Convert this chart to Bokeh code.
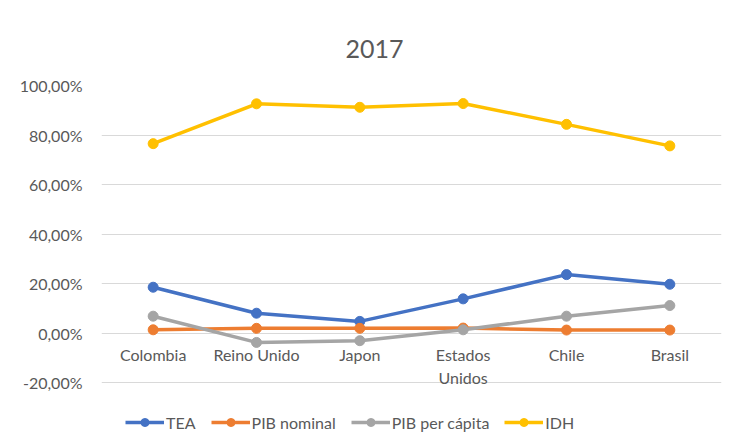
from bokeh.plotting import figure
from bokeh.models import FactorRange, Range1d, FixedTicker, Legend, LegendItem, ColumnDataSource
from bokeh.core.properties import value
from bokeh.embed import file_html
from bokeh.resources import INLINE

categories = ["Colombia", "Reino Unido", "Japon", "Estados Unidos", "Chile", "Brasil"]
category_labels = ["Colombia", "Reino Unido", "Japon", "Estados\nUnidos", "Chile", "Brasil"]

tea = [18.5, 8.0, 4.7, 13.8, 23.6, 19.7]
pib_nominal = [1.3, 1.9, 1.9, 2.0, 1.2, 1.2]
pib_per_capita = [6.8, -3.8, -3.1, 1.3, 6.8, 11.1]
idh = [76.5, 92.6, 91.2, 92.7, 84.3, 75.6]

y_ticks = [-20, 0, 20, 40, 60, 80, 100]
y_tick_labels = ["-20,00%", "0,00%", "20,00%", "40,00%", "60,00%", "80,00%", "100,00%"]

series = [
    ("TEA", tea, "#4472C4"),
    ("PIB nominal", pib_nominal, "#ED7D31"),
    ("PIB per cápita", pib_per_capita, "#A5A5A5"),
    ("IDH", idh, "#FFC000"),
]

FONT = "Lato"
TXT = "#595959"

p = figure(
    frame_width=620, frame_height=349,
    x_range=FactorRange(*categories),
    y_range=Range1d(-41, 100),
    output_backend="svg", toolbar_location=None,
    min_border_left=101, min_border_right=4, min_border_top=85, min_border_bottom=5,
)
p.x_range.range_padding = 0
p.outline_line_color = None
p.background_fill_color = "white"
p.border_fill_color = "white"

p.title.text = "2017"
p.title.align = "left"
p.title.offset = 244
p.title.standoff = 56
p.title.text_font = FONT
p.title.text_font_size = "25px"
p.title.text_font_style = "normal"
p.title.text_color = TXT

# y axis
p.yaxis.ticker = FixedTicker(ticks=y_ticks)
p.yaxis.major_label_overrides = dict(zip(y_ticks, y_tick_labels))
p.yaxis.axis_line_color = None
p.yaxis.major_tick_line_color = None
p.yaxis.minor_tick_line_color = None
p.yaxis.major_tick_out = 0
p.yaxis.major_label_standoff = 19
p.yaxis.major_label_text_font = FONT
p.yaxis.major_label_text_font_size = "16px"
p.yaxis.major_label_text_color = TXT

p.xaxis.visible = False
p.xgrid.grid_line_color = None
p.ygrid.grid_line_color = "#d9d9d9"
p.ygrid.grid_line_width = 1

# category labels just below the 0 line
lab_src = ColumnDataSource(dict(x=categories, y=[0] * len(categories), t=category_labels))
p.text(x="x", y="y", text="t", source=lab_src, text_align="center", text_baseline="top",
       y_offset=12, text_font=value(FONT), text_font_size="16px", text_color=TXT,
       text_line_height=1.2)

items = []
for name, vals, color in series:
    r1 = p.line(categories, vals, line_color=color, line_width=3.5)
    r2 = p.scatter(categories, vals, size=10, fill_color=color, line_color=color)
    items.append(LegendItem(label=name, renderers=[r1, r2]))

legend = Legend(items=items, orientation="horizontal", location=(24, 2))
legend.border_line_color = None
legend.background_fill_alpha = 0
legend.label_text_font = FONT
legend.label_text_font_size = "16px"
legend.label_text_color = TXT
legend.glyph_width = 39
legend.label_standoff = 2
legend.spacing = 15
legend.padding = 0
legend.margin = 0
p.add_layout(legend)

open("out.html", "w").write(file_html(p, INLINE))
